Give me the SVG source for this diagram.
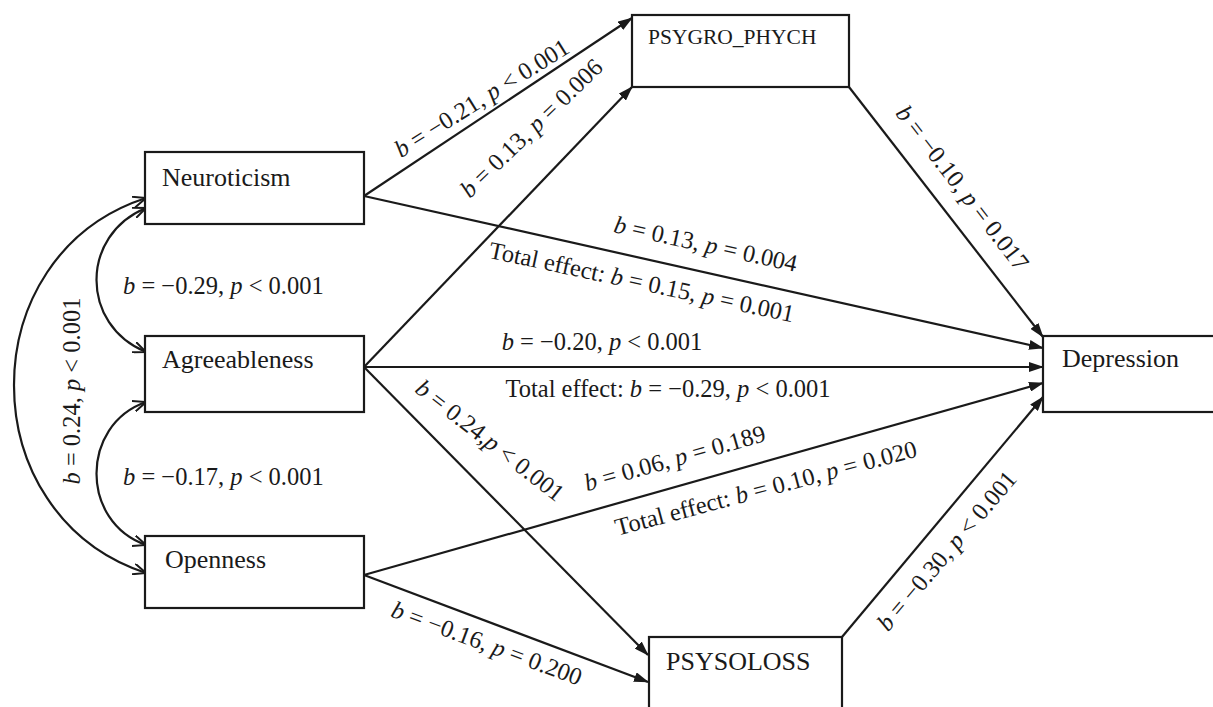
<svg xmlns="http://www.w3.org/2000/svg" width="1213" height="707" viewBox="0 0 1213 707">
<defs>
<style>
.box{fill:#fff;stroke:#1a1a1a;stroke-width:2.2}
.ln{fill:none;stroke:#1a1a1a;stroke-width:2.2}
.node{font-family:"Liberation Serif","Times New Roman",serif;font-size:26px;fill:#1a1a1a}
.lbl{font-family:"Liberation Serif","Times New Roman",serif;font-size:24.5px;fill:#1a1a1a}
.lbl tspan.i{font-style:italic}
</style>
<marker id="arr" viewBox="0 0 15 10" refX="14" refY="5" markerWidth="15" markerHeight="10" markerUnits="userSpaceOnUse" orient="auto">
<path d="M0,0 L15,5 L0,10 z" fill="#1a1a1a"/>
</marker>
<marker id="open" viewBox="0 0 14 12" refX="13" refY="6" markerWidth="14" markerHeight="12" markerUnits="userSpaceOnUse" orient="auto-start-reverse">
<path d="M0,0.5 L13,6 L0,11.5" fill="none" stroke="#1a1a1a" stroke-width="2"/>
</marker>
</defs>
<rect width="1213" height="707" fill="#fff"/>

<g id="connectors">
<line class="ln" x1="364" y1="196" x2="632" y2="18" marker-end="url(#arr)"/>
<line class="ln" x1="364" y1="367" x2="632" y2="87" marker-end="url(#arr)"/>
<line class="ln" x1="364" y1="196" x2="1043" y2="348" marker-end="url(#arr)"/>
<line class="ln" x1="364" y1="367" x2="1043" y2="367" marker-end="url(#arr)"/>
<line class="ln" x1="364" y1="575" x2="1043" y2="383" marker-end="url(#arr)"/>
<line class="ln" x1="364" y1="367" x2="648" y2="655" marker-end="url(#arr)"/>
<line class="ln" x1="364" y1="575" x2="648" y2="682" marker-end="url(#arr)"/>
<line class="ln" x1="849" y1="87" x2="1043" y2="337" marker-end="url(#arr)"/>
<line class="ln" x1="842" y1="637" x2="1043" y2="397" marker-end="url(#arr)"/>
<path class="ln" d="M146,208 C80,235 80,325 146,352" marker-start="url(#open)" marker-end="url(#open)"/>
<path class="ln" d="M146,402 C80,425 80,522 146,545" marker-start="url(#open)" marker-end="url(#open)"/>
<path class="ln" d="M146,198 C-30,255 -30,515 146,573" marker-start="url(#open)" marker-end="url(#open)"/>

<text class="lbl" text-anchor="middle" transform="translate(486,105) rotate(-32)"><tspan class="i">b</tspan> = −0.21, <tspan class="i">p</tspan> &lt; 0.001</text>
<text class="lbl" text-anchor="middle" transform="translate(537,134) rotate(-44)"><tspan class="i">b</tspan> = 0.13, <tspan class="i">p</tspan> = 0.006</text>
<text class="lbl" text-anchor="middle" transform="translate(704,252) rotate(12.3)"><tspan class="i">b</tspan> = 0.13, <tspan class="i">p</tspan> = 0.004</text>
<text class="lbl" text-anchor="middle" transform="translate(640,290) rotate(12)">Total effect: <tspan class="i">b</tspan> = 0.15, <tspan class="i">p</tspan> = 0.001</text>
<text class="lbl" text-anchor="middle" x="602" y="350"><tspan class="i">b</tspan> = −0.20, <tspan class="i">p</tspan> &lt; 0.001</text>
<text class="lbl" text-anchor="middle" x="668" y="397">Total effect: <tspan class="i">b</tspan> = −0.29, <tspan class="i">p</tspan> &lt; 0.001</text>
<text class="lbl" text-anchor="middle" transform="translate(485,447) rotate(38)"><tspan class="i">b</tspan> = 0.24,<tspan class="i">p</tspan> &lt; 0.001</text>
<text class="lbl" text-anchor="middle" transform="translate(677,466) rotate(-15.7)"><tspan class="i">b</tspan> = 0.06, <tspan class="i">p</tspan> = 0.189</text>
<text class="lbl" text-anchor="middle" transform="translate(768,496) rotate(-14.8)">Total effect: <tspan class="i">b</tspan> = 0.10, <tspan class="i">p</tspan> = 0.020</text>
<text class="lbl" text-anchor="middle" transform="translate(484,651) rotate(20.3)"><tspan class="i">b</tspan> = −0.16, <tspan class="i">p</tspan> = 0.200</text>
<text class="lbl" text-anchor="middle" transform="translate(956,193) rotate(52.4)"><tspan class="i">b</tspan> = −0.10, <tspan class="i">p</tspan> = 0.017</text>
<text class="lbl" text-anchor="middle" transform="translate(953,556) rotate(-49.6)"><tspan class="i">b</tspan> = −0.30, <tspan class="i">p</tspan> &lt; 0.001</text>
<text class="lbl" x="123" y="294"><tspan class="i">b</tspan> = −0.29, <tspan class="i">p</tspan> &lt; 0.001</text>
<text class="lbl" x="123" y="485"><tspan class="i">b</tspan> = −0.17, <tspan class="i">p</tspan> &lt; 0.001</text>
<text class="lbl" text-anchor="middle" transform="translate(80,391) rotate(-90)"><tspan class="i">b</tspan> = 0.24, <tspan class="i">p</tspan> &lt; 0.001</text>
</g>

<g id="neuroticism">
<rect class="box" x="145" y="152" width="219" height="72"/>
<text class="node" x="162" y="186">Neuroticism</text>
</g>
<g id="agreeableness">
<rect class="box" x="145" y="336" width="219" height="76"/>
<text class="node" x="162" y="368">Agreeableness</text>
</g>
<g id="openness">
<rect class="box" x="145" y="536" width="219" height="72"/>
<text class="node" x="165" y="568">Openness</text>
</g>
<g id="psygro_phych">
<rect class="box" x="632" y="15" width="217" height="72"/>
<text class="node" x="648" y="44" style="font-size:21.5px">PSYGRO_PHYCH</text>
</g>
<g id="psysoloss">
<rect class="box" x="649" y="637" width="193" height="90"/>
<text class="node" x="666" y="670">PSYSOLOSS</text>
</g>
<g id="depression">
<rect class="box" x="1043" y="336" width="219" height="76"/>
<text class="node" x="1062" y="367">Depression</text>
</g>
</svg>
